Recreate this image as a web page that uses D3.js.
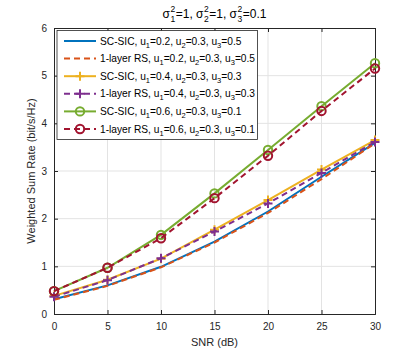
<!DOCTYPE html>
<html><head><meta charset="utf-8">
<script src="https://cdn.jsdelivr.net/npm/d3@7"></script>
<style>body{margin:0;background:#fff}svg{font-family:"Liberation Sans",Arial,Helvetica,sans-serif}</style>
</head><body><svg id="c" width="415" height="353"></svg>
<script>
const snr = [0, 5, 10, 15, 20, 25, 30];
const scsic_02 = [0.31, 0.60, 0.99, 1.52, 2.15, 2.88, 3.59];
const rs_02    = [0.30, 0.59, 0.98, 1.50, 2.12, 2.83, 3.58];
const scsic_04 = [0.38, 0.72, 1.16, 1.77, 2.39, 3.03, 3.65];
const rs_04    = [0.36, 0.71, 1.17, 1.73, 2.32, 2.96, 3.61];
const scsic_06 = [0.48, 0.97, 1.66, 2.53, 3.44, 4.36, 5.26];
const rs_06    = [0.48, 0.97, 1.59, 2.43, 3.32, 4.26, 5.15];
const xTicks = [0, 5, 10, 15, 20, 25, 30];
const yTicks = [0, 1, 2, 3, 4, 5, 6];
const seriesNames = [
  ["SC-SIC", "0.2", "0.3", "0.5"],
  ["1-layer RS", "0.2", "0.3", "0.5"],
  ["SC-SIC", "0.4", "0.3", "0.3"],
  ["1-layer RS", "0.4", "0.3", "0.3"],
  ["SC-SIC", "0.6", "0.3", "0.1"],
  ["1-layer RS", "0.6", "0.3", "0.1"]
];
const seriesData = [scsic_02, rs_02, scsic_04, rs_04, scsic_06, rs_06];
const colors = ["#0072BD", "#D95319", "#EDB120", "#7E2F8E", "#77AC30", "#A2142F"];
const dashed = [false, true, false, true, false, true];
const markers = [null, null, "plus", "plus", "circle", "circle"];

const svg = d3.select("#c");
const L = 54, R = 375, T = 28, B = 314;
const x = d3.scaleLinear().domain([0, 30]).range([L, R]);
const y = d3.scaleLinear().domain([0, 6]).range([B, T]);
const axisCol = "#262626";

// grid
const g = svg.append("g");
g.selectAll(".gx").data(xTicks.slice(1, -1)).enter().append("line")
  .attr("x1", d => x(d)).attr("x2", d => x(d)).attr("y1", T).attr("y2", B)
  .attr("stroke", "#e3e3e3").attr("stroke-width", 1);
g.selectAll(".gy").data(yTicks.slice(1, -1)).enter().append("line")
  .attr("y1", d => y(d)).attr("y2", d => y(d)).attr("x1", L).attr("x2", R)
  .attr("stroke", "#e3e3e3").attr("stroke-width", 1);

// axes (ticks inward)
const fs = 10;
const ax = svg.append("g").attr("transform", `translate(0,${B})`)
  .call(d3.axisBottom(x).tickValues(xTicks).tickSize(-4).tickPadding(9).tickFormat(d3.format("d")));
const axT = svg.append("g").attr("transform", `translate(0,${T})`)
  .call(d3.axisTop(x).tickValues(xTicks).tickSize(-4).tickFormat(""));
const ay = svg.append("g").attr("transform", `translate(${L},0)`)
  .call(d3.axisLeft(y).tickValues(yTicks).tickSize(-4).tickPadding(7).tickFormat(d3.format("d")));
const ayR = svg.append("g").attr("transform", `translate(${R},0)`)
  .call(d3.axisRight(y).tickValues(yTicks).tickSize(-4).tickFormat(""));
[ax, axT, ay, ayR].forEach(a => {
  a.select(".domain").attr("stroke", axisCol).attr("stroke-width", 1);
  a.selectAll(".tick line").attr("stroke", axisCol);
  a.selectAll("text").attr("fill", axisCol).attr("font-size", fs)
    .attr("font-family", '"Liberation Sans",Arial,sans-serif');
});

// lines
const line = d3.line().x((d, i) => x(snr[i])).y(d => y(d));
seriesData.forEach((data, k) => {
  svg.append("path").datum(data).attr("d", line)
    .attr("fill", "none").attr("stroke", colors[k]).attr("stroke-width", 2)
    .attr("stroke-dasharray", dashed[k] ? "6,4" : null);
  const mk = markers[k];
  if (mk === "plus") {
    svg.selectAll(null).data(data).enter().append("path")
      .attr("d", (d, i) => { const cx = x(snr[i]), cy = y(d), s = 4.5; return `M${cx - s},${cy}H${cx + s}M${cx},${cy - s}V${cy + s}`; })
      .attr("stroke", colors[k]).attr("stroke-width", 2).attr("fill", "none");
  } else if (mk === "circle") {
    svg.selectAll(null).data(data).enter().append("circle")
      .attr("cx", (d, i) => x(snr[i])).attr("cy", d => y(d)).attr("r", 4.2)
      .attr("stroke", colors[k]).attr("stroke-width", 2).attr("fill", "none");
  }
});

// legend
const lg = svg.append("g");
lg.append("rect").attr("x", 57).attr("y", 30.5).attr("width", 200.5).attr("height", 109)
  .attr("fill", "#fff").attr("stroke", "#262626").attr("stroke-width", 0.8);
seriesNames.forEach((nm, k) => {
  const cy = 41 + k * 17.6;
  lg.append("line").attr("x1", 64).attr("x2", 96).attr("y1", cy).attr("y2", cy)
    .attr("stroke", colors[k]).attr("stroke-width", 2)
    .attr("stroke-dasharray", dashed[k] ? "6,4" : null);
  if (markers[k] === "plus") {
    lg.append("path").attr("d", `M${80 - 4.5},${cy}H${80 + 4.5}M80,${cy - 4.5}V${cy + 4.5}`)
      .attr("stroke", colors[k]).attr("stroke-width", 2);
  } else if (markers[k] === "circle") {
    lg.append("circle").attr("cx", 80).attr("cy", cy).attr("r", 4.2)
      .attr("fill", "none").attr("stroke", colors[k]).attr("stroke-width", 2);
  }
  const t = lg.append("text").attr("x", 100).attr("y", cy + 3.6).attr("font-size", 10.2).attr("fill", "#000");
  t.append("tspan").text(nm[0] + ", u");
  t.append("tspan").attr("font-size", 7.5).attr("dy", 3).text("1");
  t.append("tspan").attr("dy", -3).text("=" + nm[1] + ", u");
  t.append("tspan").attr("font-size", 7.5).attr("dy", 3).text("2");
  t.append("tspan").attr("dy", -3).text("=" + nm[2] + ", u");
  t.append("tspan").attr("font-size", 7.5).attr("dy", 3).text("3");
  t.append("tspan").attr("dy", -3).text("=" + nm[3]);
});

// title with stacked sup/sub
const parts = [["σ", "2", "1", "=1, "], ["σ", "2", "2", "=1, "], ["σ", "2", "3", "=0.1"]];
let cx = 0;
const tb = 18;
const tg = svg.append("g");
parts.forEach(p => {
  const s = tg.append("text").attr("x", cx).attr("y", tb).attr("font-size", 12).text(p[0]);
  cx += s.node().getComputedTextLength() + 0.5;
  const sup = tg.append("text").attr("x", cx).attr("y", tb - 6).attr("font-size", 8.5).text(p[1]);
  const sub = tg.append("text").attr("x", cx).attr("y", tb + 4).attr("font-size", 8.5).text(p[2]);
  cx += Math.max(sup.node().getComputedTextLength(), sub.node().getComputedTextLength()) + 0.5;
  const r = tg.append("text").attr("x", cx).attr("y", tb).attr("font-size", 12).style("white-space", "pre").text(p[3]);
  cx += r.node().getComputedTextLength();
});
tg.attr("transform", `translate(${(L + R) / 2 - cx / 2},0)`).attr("fill", "#000");

// axis labels
svg.append("text").attr("x", (L + R) / 2).attr("y", 346).attr("text-anchor", "middle")
  .attr("font-size", 11).attr("fill", axisCol).text("SNR (dB)");
svg.append("text").attr("transform", `translate(35,${(T + B) / 2}) rotate(-90)`)
  .attr("text-anchor", "middle").attr("font-size", 11).attr("fill", axisCol)
  .text("Weighted Sum Rate (bit/s/Hz)");
</script></body></html>
